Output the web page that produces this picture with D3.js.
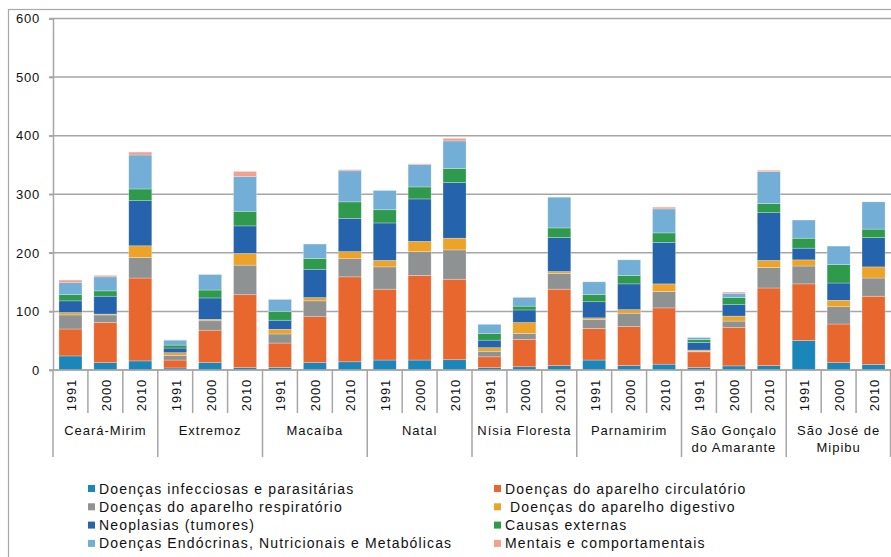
<!DOCTYPE html>
<html>
<head>
<meta charset="utf-8">
<script src="https://cdn.jsdelivr.net/npm/d3@7"></script>
<style>
  html, body { margin: 0; padding: 0; background: #fff; }
  svg { display: block; font-family: "Liberation Sans", Arial, sans-serif; }
  text { white-space: pre; }
</style>
</head>
<body>
<svg id="chart" width="891" height="557"></svg>
<script>
// ---- Data ----
const municipios = ["Ceará-Mirim", "Extremoz", "Macaíba", "Natal", "Nísia Floresta", "Parnamirim", "São Gonçalo do Amarante", "São José de Mipibu"];
const municipioLines = [["Ceará-Mirim"], ["Extremoz"], ["Macaíba"], ["Natal"], ["Nísia Floresta"], ["Parnamirim"], ["São Gonçalo", "do Amarante"], ["São José de", "Mipibu"]];
const anos = ["1991", "2000", "2010"];
const yTicks = [0, 100, 200, 300, 400, 500, 600];

// values per bar: municipio x ano (1991, 2000, 2010)
const infecciosas   = [24, 12.5, 15.5,  3.5, 12.5, 4,     4.5, 12.5, 14,   17, 17, 17.5,   4, 5.5, 7.5,    17, 7.5, 10,    4.5, 7, 7.5,    50.5, 12.5, 9.5];
const circulatorio  = [46, 68.5, 141.5, 13.5, 55.5, 124.5, 41.5, 78.5, 145, 121, 144.5, 137.5, 18.5, 46.5, 130.5, 54, 66.5, 96, 26.5, 66, 132.5, 96.5, 66, 116.5];
const respiratorio  = [24, 13, 35,      8, 16, 50.5,      15.5, 27, 31,    38, 40.5, 50,   9.5, 10.5, 27,  15.5, 23, 28,   1, 10.5, 35,    30.5, 29.5, 31];
const digestivo     = [4, 1.5, 20,      4.5, 2.5, 20,     8, 5.5, 12,      11, 17.5, 20,   6, 18.5, 3,     2.5, 6, 13,     2, 8.5, 12,     10.5, 11, 19];
const neoplasias    = [20, 30.5, 77,    8, 36.5, 47,      15.5, 48.5, 57,  64, 72.5, 95,   13, 21.5, 58,   27.5, 44, 71,   13, 19.5, 81.5, 20, 29.5, 50];
const externas      = [10.5, 9, 20,     5, 13.5, 25,      15, 18.5, 28,    22.5, 20.5, 24, 11.5, 6.5, 16.5, 12, 14.5, 16,  5, 12, 15.5,    17, 31.5, 14.5];
const endocrinas    = [20.5, 24, 58,    8.5, 26.5, 59.5,  20.5, 24.5, 53,  33, 38, 47,     15.5, 15, 52.5, 22, 26.5, 41,   3.5, 7.5, 54.5, 31, 31.5, 46.5];
const mentais       = [4.5, 2.5, 5,     0.5, 0, 8.5,      0, 0, 2,         0, 1.5, 4.5,    0, 0, 0,        0, 0, 3,        0, 2, 2.5,      0, 0, 0];

const seriesNames = [
  "Doenças infecciosas e parasitárias",
  "Doenças do aparelho circulatório",
  "Doenças do aparelho respiratório",
  " Doenças do aparelho digestivo",
  "Neoplasias (tumores)",
  "Causas externas",
  "Doenças Endócrinas, Nutricionais e Metabólicas",
  "Mentais e comportamentais"
];
const seriesValues = [infecciosas, circulatorio, respiratorio, digestivo, neoplasias, externas, endocrinas, mentais];
const seriesColors = ["#1a86b9", "#e8672f", "#8e9292", "#eca328", "#2564ad", "#2f9a4b", "#72aed6", "#f3a08e"];
const legendOrder = [0, 2, 4, 6, 1, 3, 5, 7];

// ---- Build table ----
const keys = seriesNames.map((d, i) => "s" + i);
const rows = [];
municipios.forEach((m, mi) => {
  anos.forEach((a, ai) => {
    const idx = mi * 3 + ai;
    const r = { id: m + "|" + a, municipio: m, ano: a, mi: mi };
    keys.forEach((k, si) => r[k] = seriesValues[si][idx]);
    rows.push(r);
  });
});

// ---- Layout ----
const svg = d3.select("#chart");
const mLeft = 53, mRight = 891, mTop = 18.5, mBottom = 370;

const x = d3.scaleBand().domain(rows.map(d => d.id)).range([mLeft, mRight]).paddingInner(0.34).paddingOuter(0.17);
const y = d3.scaleLinear().domain([0, 600]).range([mBottom, mTop]);

// outer frame
svg.append("rect").attr("x", 8.5).attr("y", 9.5).attr("width", 900).attr("height", 600)
  .attr("fill", "none").attr("stroke", "#a8a8a8").attr("stroke-width", 1.2);

// gridlines
svg.append("g").selectAll("line").data(yTicks).join("line")
  .attr("x1", mLeft - 4).attr("x2", mRight)
  .attr("y1", d => y(d)).attr("y2", d => y(d))
  .attr("stroke", "#a6a6a6").attr("stroke-width", 1.5);

// y axis
const yAxis = svg.append("g").attr("transform", `translate(${mLeft},0)`)
  .call(d3.axisLeft(y).tickValues(yTicks).tickSize(4).tickPadding(9));
yAxis.select(".domain").attr("stroke", "#a6a6a6").attr("stroke-width", 1.5);
yAxis.selectAll(".tick line").attr("stroke", "#a6a6a6").attr("stroke-width", 1.5);
yAxis.selectAll(".tick text").attr("font-size", 13).attr("fill", "#111")
  .attr("font-family", "'Liberation Sans', Arial, sans-serif").style("letter-spacing", "0.8px");

// stacked bars
const stack = d3.stack().keys(keys)(rows);
svg.append("g").selectAll("g").data(stack).join("g")
  .attr("fill", (d, i) => seriesColors[i])
  .selectAll("rect").data(d => d).join("rect")
  .attr("x", d => x(d.data.id))
  .attr("width", x.bandwidth())
  .attr("y", d => y(d[1]))
  .attr("height", d => Math.max(0, y(d[0]) - y(d[1])))
  .attr("stroke", "rgba(255,255,255,0.45)").attr("stroke-width", 0.6);

// x axis: year separators & labels
const step = x.step();
const xg = svg.append("g");
xg.append("line").attr("x1", mLeft).attr("x2", mRight).attr("y1", mBottom).attr("y2", mBottom)
  .attr("stroke", "#a6a6a6").attr("stroke-width", 1.5);
rows.forEach((d, i) => {
  const xl = mLeft + i * step;
  const isGroup = i % 3 === 0;
  xg.append("line").attr("x1", xl).attr("x2", xl).attr("y1", mBottom)
    .attr("y2", isGroup ? 457 : 413)
    .attr("stroke", "#a6a6a6").attr("stroke-width", 1.5);
  const cx = x(d.id) + x.bandwidth() / 2 + 1;
  xg.append("text").attr("transform", `translate(${cx},379) rotate(-90)`)
    .attr("text-anchor", "end").attr("dominant-baseline", "central")
    .attr("font-size", 13).attr("fill", "#111").style("letter-spacing", "0.8px")
    .text(d.ano);
});
xg.append("line").attr("x1", mRight - 0.5).attr("x2", mRight - 0.5).attr("y1", mBottom).attr("y2", 457)
  .attr("stroke", "#a6a6a6").attr("stroke-width", 1.5);

// group labels
municipioLines.forEach((lines, mi) => {
  const gx = mLeft + (mi * 3 + 1.5) * step;
  lines.forEach((ln, li) => {
    xg.append("text").attr("x", gx).attr("y", 430 + li * 17.5)
      .attr("text-anchor", "middle").attr("dominant-baseline", "central")
      .attr("font-size", 13).attr("fill", "#111").style("letter-spacing", "1px")
      .text(ln);
  });
});

// legend
const lg = svg.append("g");
legendOrder.forEach((si, k) => {
  const col = Math.floor(k / 4), row = k % 4;
  const lx = col === 0 ? 88 : 494;
  const ly = 488.5 + row * 18.3;
  lg.append("rect").attr("x", lx).attr("y", ly - 3.5).attr("width", 7).attr("height", 7).attr("fill", seriesColors[si]);
  lg.append("text").attr("x", lx + 11).attr("y", ly).attr("dominant-baseline", "central")
    .attr("font-size", 14).attr("fill", "#111").style("letter-spacing", "1.15px")
    .text(seriesNames[si]);
});
</script>
</body>
</html>
